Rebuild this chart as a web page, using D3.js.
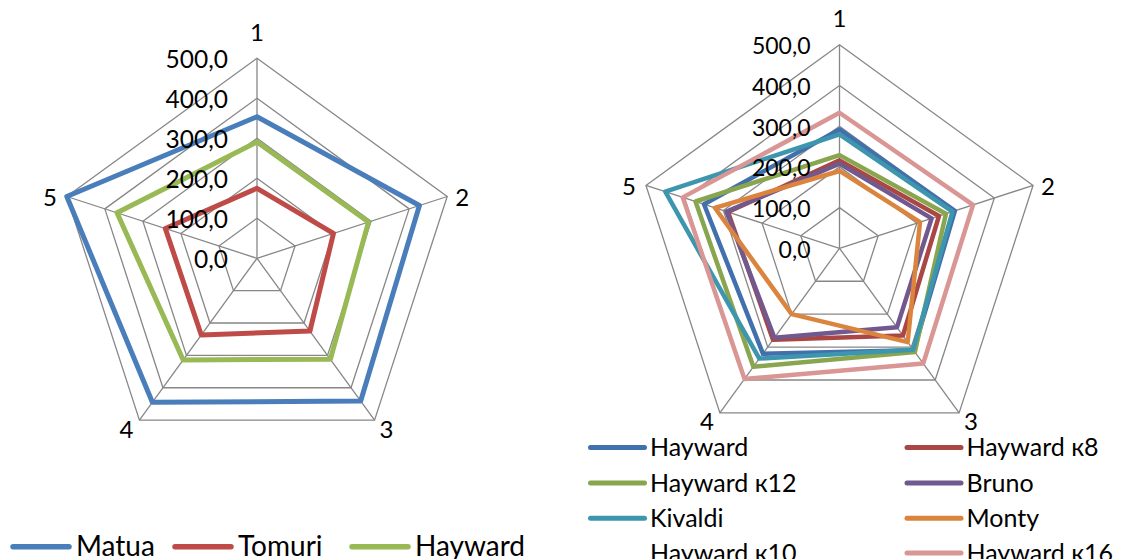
<!DOCTYPE html>
<html>
<head>
<meta charset="utf-8">
<script src="https://cdn.jsdelivr.net/npm/d3@7"></script>
<style>
  html, body { margin: 0; padding: 0; background: #fff; }
  svg { display: block; font-family: Lato, "Noto Sans", sans-serif; }
</style>
</head>
<body>
<script>
// Axis categories and radial ticks
const axes = ["1", "2", "3", "4", "5"];
const ticks = [0, 100, 200, 300, 400, 500];
const tickLabels = ["0,0", "100,0", "200,0", "300,0", "400,0", "500,0"];

// Left radar: three cultivars
const leftNames = ["Matua", "Tomuri", "Hayward"];
const leftColors = ["#4A7EBB", "#BE4B48", "#98B954"];
const matua = [354, 427, 441, 445, 500];
const tomuri = [175, 201, 225, 237, 241];
const haywardLeft = [291, 293, 312, 314, 368];

// Right radar: eight series (Hayward к10 has no line)
const rightNames = ["Hayward", "Hayward к8", "Hayward к12", "Bruno", "Kivaldi", "Monty", "Hayward к10", "Hayward к16"];
const rightColors = ["#4170AC", "#AA4643", "#89A54E", "#71588F", "#3D96AE", "#DB843D", null, "#D99694"];
const hayward = [292, 298, 310, 320, 350];
const haywardK8 = [216, 257, 265, 278, 288];
const haywardK12 = [229, 275, 315, 360, 372];
const bruno = [208, 238, 240, 272, 292];
const kivaldi = [280, 292, 308, 335, 450];
const monty = [190, 208, 285, 200, 322];
const haywardK10 = [];
const haywardK16 = [333, 345, 350, 397, 405];

const svg = d3.select("body").append("svg")
  .attr("width", 1121).attr("height", 559);

svg.append("rect").attr("width", 1121).attr("height", 559).attr("fill", "#fff");

// Label placement around each pentagon corner
const axisLabelPlacement = [
  { dx: 0, dy: -27, anchor: "middle" },
  { dx: 8, dy: 0, anchor: "start" },
  { dx: 5, dy: 8, anchor: "start" },
  { dx: -6, dy: 8, anchor: "end" },
  { dx: -10, dy: 0, anchor: "end" }
];

function radar({ cx, cy, R, series, colors, lineWidth, tickFont, axisFont }) {
  const r = d3.scaleLinear().domain([0, d3.max(ticks)]).range([0, R]);
  const ang = d3.scaleLinear().domain([0, axes.length]).range([0, 2 * Math.PI]);
  const pt = (i, v) => [r(v) * Math.sin(ang(i)), -r(v) * Math.cos(ang(i))];
  const g = svg.append("g").attr("transform", `translate(${cx},${cy})`);
  const closed = d3.line().curve(d3.curveLinearClosed);

  // grid rings
  g.selectAll(".ring").data(ticks.filter(t => t > 0)).join("path")
    .attr("d", t => closed(axes.map((_, i) => pt(i, t))))
    .attr("fill", "none").attr("stroke", "#878787").attr("stroke-width", 1.3);

  // spokes
  g.selectAll(".spoke").data(axes).join("line")
    .attr("x1", 0).attr("y1", 0)
    .attr("x2", (_, i) => pt(i, d3.max(ticks))[0])
    .attr("y2", (_, i) => pt(i, d3.max(ticks))[1])
    .attr("stroke", "#878787").attr("stroke-width", 1.3);

  // series polygons
  series.forEach((vals, k) => {
    if (!colors[k] || vals.length === 0) return;
    g.append("path")
      .attr("d", closed(vals.map((v, i) => pt(i, v))))
      .attr("fill", "none")
      .attr("stroke", colors[k])
      .attr("stroke-width", lineWidth)
      .attr("stroke-linejoin", "round");
  });

  // radial tick labels
  g.selectAll(".tick").data(ticks).join("text")
    .attr("x", -29)
    .attr("y", t => -r(t) + 9.5)
    .attr("text-anchor", "end")
    .attr("font-size", tickFont)
    .attr("fill", "#000")
    .text((t, i) => tickLabels[i]);

  // category labels
  g.selectAll(".cat").data(axes).join("text")
    .attr("x", (_, i) => pt(i, d3.max(ticks))[0] + axisLabelPlacement[i].dx)
    .attr("y", (_, i) => pt(i, d3.max(ticks))[1] + axisLabelPlacement[i].dy)
    .attr("text-anchor", (_, i) => axisLabelPlacement[i].anchor)
    .attr("dominant-baseline", "central")
    .attr("font-size", axisFont)
    .attr("fill", "#000")
    .text(d => d);
}

radar({
  cx: 257, cy: 258.3, R: 200,
  series: [matua, tomuri, haywardLeft],
  colors: leftColors, lineWidth: 5, tickFont: 24.5, axisFont: 24
});

radar({
  cx: 839.5, cy: 248.3, R: 203.5,
  series: [hayward, haywardK8, haywardK12, bruno, kivaldi, monty, haywardK10, haywardK16],
  colors: rightColors, lineWidth: 4.5, tickFont: 23, axisFont: 24
});

// Left legend: single row
const leftLegendX = [13, 175, 352];
const leftLegend = svg.append("g");
leftNames.forEach((name, i) => {
  leftLegend.append("line")
    .attr("x1", leftLegendX[i]).attr("x2", leftLegendX[i] + 56)
    .attr("y1", 546.7).attr("y2", 546.7)
    .attr("stroke", leftColors[i]).attr("stroke-width", 5.5)
    .attr("stroke-linecap", "round");
  leftLegend.append("text")
    .attr("x", leftLegendX[i] + 63).attr("y", 555.5)
    .attr("font-size", 28).attr("fill", "#000")
    .text(name);
});

// Right legend: two columns, four rows
const rightLegendCols = [590.5, 907];
const rightLegendRows = [447.6, 483.1, 518.3, 552.9];
const rightLegend = svg.append("g");
rightNames.forEach((name, i) => {
  const x = rightLegendCols[i % 2];
  const y = rightLegendRows[Math.floor(i / 2)];
  if (rightColors[i]) {
    rightLegend.append("line")
      .attr("x1", x).attr("x2", x + 54)
      .attr("y1", y).attr("y2", y)
      .attr("stroke", rightColors[i]).attr("stroke-width", 5)
      .attr("stroke-linecap", "round");
  }
  rightLegend.append("text")
    .attr("x", x + 59.5).attr("y", y + 8.8)
    .attr("font-size", 25).attr("fill", "#000")
    .text(name);
});
</script>
</body>
</html>
